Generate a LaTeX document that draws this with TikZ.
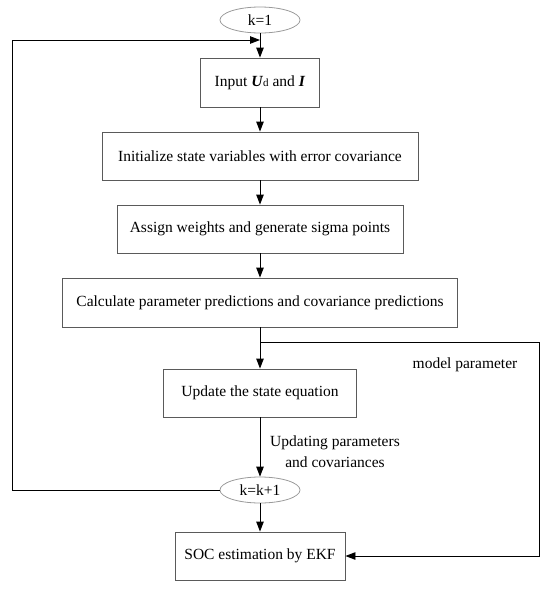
\documentclass[tikz,border=0pt]{standalone}
\usepackage{fontspec}
\setmainfont{Liberation Serif}
\usetikzlibrary{arrows.meta,shapes.geometric}
\definecolor{frame}{HTML}{5a5a5a}
\definecolor{oval}{HTML}{9a9a9a}
\newcommand{\txt}{\fontsize{15.5}{21}\selectfont}

\begin{document}
\begin{tikzpicture}[x=1pt,y=-1pt,
  box/.style={draw=frame,line width=0.9pt,inner sep=0pt,font=\txt},
  term/.style={draw=oval,ellipse,line width=0.8pt,inner sep=0pt,minimum width=80,minimum height=26,font=\txt},
  arr/.style={line width=0.9pt,-{Triangle[length=10pt,width=7.5pt]}}]
  \useasboundingbox (0,0) rectangle (550,589);
  % terminals
  \node[term] (k1) at (260,20) {k=1};
  \node[term] (kk) at (260,490) {k=k+1};
  % steps
  \node[box,minimum width=119,minimum height=49] (in) at (260,82.5)
    {Input \textbf{\textit{U}}{\fontsize{11}{11}\selectfont d} and \textbf{\textit{I}}};
  \node[box,minimum width=316,minimum height=48] (init) at (260,156)
    {Initialize state variables with error covariance};
  \node[box,minimum width=286,minimum height=48] (sig) at (260,229)
    {Assign weights and generate sigma points};
  \node[box,minimum width=395,minimum height=49] (pred) at (260,302.5)
    {Calculate parameter predictions and covariance predictions};
  \node[box,minimum width=193,minimum height=48] (upd) at (260,393)
    {Update the state equation};
  \node[box,minimum width=170,minimum height=48] (soc) at (260,556)
    {SOC estimation by EKF};
  % labels
  \node[font=\txt] (mp) at (465,365) {model parameter};
  \node[font=\txt,align=center] (up) at (335,452) {Updating parameters\\and covariances};
  % helper points
  \coordinate (join) at (260,40);
  \coordinate (lft) at (12,40);
  \coordinate (br) at (260,342);
  \coordinate (rgt) at (539,342);
  % main flow
  \foreach \a/\b in {k1/in, in/init, init/sig, sig/pred, pred/upd, upd/kk, kk/soc}
    \draw[arr] (\a) -- (\b);
  % loops
  \draw[arr] (kk.west) -| (lft) -- (join);
  \draw[arr] (br) -- (rgt) |- (soc.east);
\end{tikzpicture}
\end{document}
